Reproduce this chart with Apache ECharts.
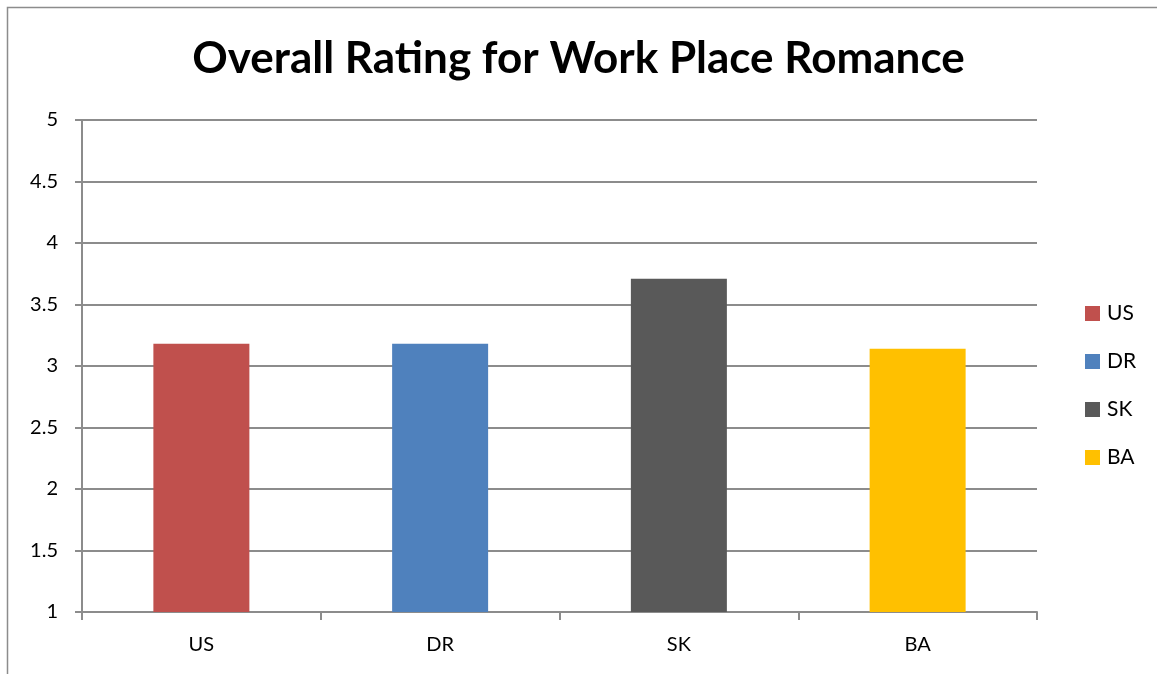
<!DOCTYPE html>
<html><head><meta charset="utf-8">
<script src="https://cdn.jsdelivr.net/npm/echarts@6/dist/echarts.min.js"></script>
<style>html,body{margin:0;padding:0;background:#fff}#c{width:1157px;height:674px}</style>
</head><body><div id="c"></div>
<script>
const categories = ['US', 'DR', 'SK', 'BA'];
const values = [3.18, 3.18, 3.71, 3.14];
const colors = ['#C0504D', '#4F81BD', '#595959', '#FFC000'];
const yTicks = { min: 1, max: 5, interval: 0.5 };
const title = 'Overall Rating for Work Place Romance';

const font = 'Lato, "Open Sans", sans-serif';
const chart = echarts.init(document.getElementById('c'));
const series = categories.map((name, i) => ({
  name: name,
  type: 'bar',
  stack: 'all',
  barWidth: 96,
  itemStyle: { color: colors[i] },
  data: categories.map((c, j) => (j === i ? values[i] : '-'))
}));
chart.setOption({
  animation: false,
  graphic: [{ type: 'rect', shape: { x: 7.5, y: 7.5, width: 1300, height: 800 }, style: { fill: 'none', stroke: '#8c8c8c', lineWidth: 1.5 }, silent: true }],
  title: { text: title, left: 'center', top: 32, textStyle: { fontFamily: font, fontWeight: 'bold', fontSize: 44, color: '#000' } },
  grid: { left: 82, right: 120, top: 120, bottom: 62 },
  legend: {
    orient: 'vertical', left: 1080, top: 298, itemWidth: 15, itemHeight: 15, itemGap: 27,
    icon: 'rect', textStyle: { fontFamily: font, fontSize: 21, color: '#000', padding: [0, 0, 0, 2] },
    data: categories
  },
  xAxis: {
    type: 'category', data: categories,
    axisLine: { lineStyle: { color: '#8c8c8c', width: 2 } },
    axisTick: { show: true, length: 8, alignWithLabel: false, lineStyle: { color: '#8c8c8c', width: 2 } },
    axisLabel: { fontFamily: font, fontSize: 20, color: '#000', margin: 23 }
  },
  yAxis: {
    type: 'value', min: yTicks.min, max: yTicks.max, interval: yTicks.interval,
    axisLine: { show: true, lineStyle: { color: '#8c8c8c', width: 2 } },
    axisTick: { show: true, length: 7, lineStyle: { color: '#8c8c8c', width: 2 } },
    splitLine: { lineStyle: { color: '#8c8c8c', width: 2 } },
    axisLabel: { fontFamily: font, fontSize: 20, color: '#000', margin: 24 }
  },
  series: series
});
</script></body></html>
